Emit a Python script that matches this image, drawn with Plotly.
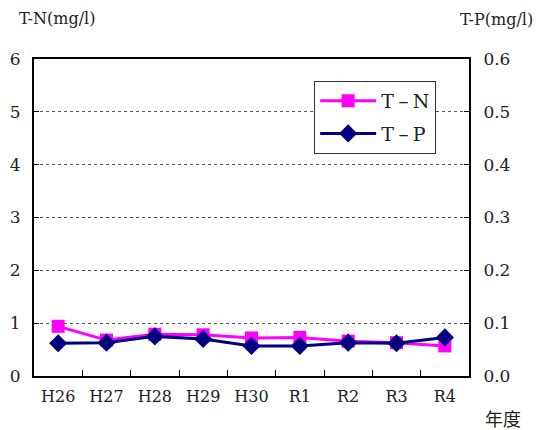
import plotly.graph_objects as go

years = ["H26", "H27", "H28", "H29", "H30", "R1", "R2", "R3", "R4"]
tn = [0.94, 0.68, 0.79, 0.78, 0.72, 0.73, 0.66, 0.63, 0.57]
tp = [0.062, 0.063, 0.075, 0.070, 0.057, 0.057, 0.063, 0.062, 0.073]
left_ticks = [0, 1, 2, 3, 4, 5, 6]
right_ticks = [0.0, 0.1, 0.2, 0.3, 0.4, 0.5, 0.6]

FONT = "DejaVu Serif"
CJK = "Noto Sans CJK JP"
TXT = "#222"

fig = go.Figure()
fig.add_trace(go.Scatter(
    x=years, y=tn, name="T－N", mode="lines+markers", legendgroup="a",
    line=dict(color="#FF00FF", width=3),
    marker=dict(symbol="square", size=13, color="#FF00FF"),
))
fig.add_trace(go.Scatter(
    x=years, y=tp, name="T－P", mode="lines+markers", legendgroup="b", yaxis="y2",
    line=dict(color="#000080", width=3),
    marker=dict(symbol="diamond", size=14, color="#000080"),
))

fig.update_layout(
    width=535, height=422,
    margin=dict(l=26, r=74, t=51, b=54, autoexpand=False),
    paper_bgcolor="white", plot_bgcolor="white",
    font=dict(family=FONT, size=17, color=TXT),
    showlegend=True,
    legend=dict(
        x=0.644, y=0.931, xanchor="left", yanchor="top",
        bgcolor="white", bordercolor="#333", borderwidth=1,
        font=dict(family=FONT, size=19, color=TXT),
        tracegroupgap=5, itemwidth=56,
    ),
    xaxis=dict(
        type="category", range=[-0.5, 8.5], automargin=False,
        showline=True, linecolor="black", linewidth=2, mirror=True,
        ticks="inside", tickson="boundaries", ticklen=6, tickcolor="black",
        showgrid=False, zeroline=False, ticklabelstandoff=5,
        tickfont=dict(family=FONT, size=16, color=TXT),
    ),
    yaxis=dict(
        range=[0, 6], tickvals=left_ticks, automargin=False,
        showline=True, linecolor="black", linewidth=2,
        ticks="inside", ticklen=5, tickcolor="black",
        showgrid=True, gridcolor="#555", griddash="dot", gridwidth=1,
        zeroline=False, ticklabelstandoff=8,
        tickfont=dict(family=FONT, size=17, color=TXT),
    ),
    yaxis2=dict(
        range=[0, 0.6], tickvals=right_ticks, tickformat=".1f", automargin=False,
        overlaying="y", side="right",
        showline=True, linecolor="black", linewidth=2,
        ticks="inside", ticklen=5, tickcolor="black",
        showgrid=False, zeroline=False, ticklabelstandoff=9,
        tickfont=dict(family=FONT, size=17, color=TXT),
    ),
    annotations=[
        dict(text="T-N(mg/l)", xref="paper", yref="paper", x=-0.04, y=1.129,
             xanchor="left", yanchor="middle", showarrow=False,
             font=dict(family=FONT, size=16, color=TXT)),
        dict(text="T-P(mg/l)", xref="paper", yref="paper", x=1.152, y=1.161,
             xanchor="right", yanchor="top", showarrow=False,
             font=dict(family=FONT, size=16, color=TXT)),
        dict(text="年度", xref="paper", yref="paper", x=1.078, y=-0.132,
             xanchor="center", yanchor="middle", showarrow=False,
             font=dict(family=CJK, size=18, color=TXT)),
    ],
)

fig.write_html("out.html")
